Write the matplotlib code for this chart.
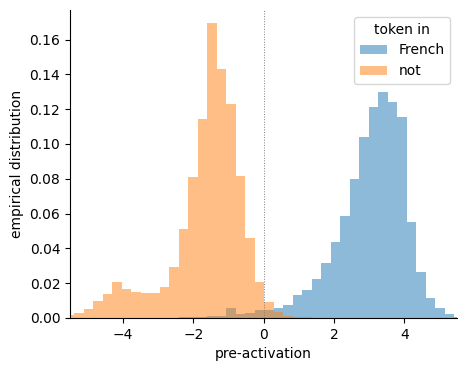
import numpy as np
import matplotlib
matplotlib.use("Agg")
import matplotlib.pyplot as plt

# bin edges (shared) 
bin_start = -5.65
bin_width = 0.27
n_bins = 42
edges = bin_start + bin_width * np.arange(n_bins + 1)

# probability per bin for each hue level
french = [0, 0, 0, 0, 0, 0, 0, 0, 0, 0, 0, 0,
          0.0008, 0.0008, 0.0008, 0.0013, 0.0013, 0.0060, 0.0025, 0.0030,
          0.0044, 0.0046, 0.0055, 0.0077, 0.0134, 0.0163, 0.0226, 0.0318,
          0.0434, 0.0585, 0.0798, 0.1038, 0.1211, 0.1297, 0.1239, 0.1153,
          0.0549, 0.0263, 0.0117, 0.0059, 0.0025, 0.0006]
not_ = [0.0019, 0.0031, 0.0054, 0.0100, 0.0140, 0.0204, 0.0169, 0.0152,
        0.0146, 0.0146, 0.0180, 0.0290, 0.0509, 0.0809, 0.1145, 0.1696,
        0.1431, 0.1229, 0.0814, 0.0457, 0.0209, 0.0094, 0.0036, 0.0013,
        0.0005, 0.0003, 0.0002, 0, 0, 0, 0, 0, 0, 0, 0, 0, 0, 0, 0, 0, 0, 0]

labels = ["French", "not"]

centers = (edges[:-1] + edges[1:]) / 2

fig = plt.figure(figsize=(4.67, 3.71), dpi=100)
ax = fig.add_axes([0.150, 0.143, 0.829, 0.830])

ax.hist(centers, bins=edges, weights=french, color="tab:blue", alpha=0.5,
        label=labels[0], linewidth=0)
ax.hist(centers, bins=edges, weights=not_, color="tab:orange", alpha=0.5,
        label=labels[1], linewidth=0)

ax.axvline(0, color="gray", linestyle=":", linewidth=0.7)

ax.set_xlim(-5.5, 5.5)
ax.set_ylim(0, 0.177)
ax.set_xticks([-4, -2, 0, 2, 4])
ax.set_yticks(np.arange(0, 0.17, 0.02))
ax.set_yticklabels([f"{v:.2f}" for v in np.arange(0, 0.17, 0.02)])
ax.set_xlabel("pre-activation")
ax.set_ylabel("empirical distribution")
ax.spines["top"].set_visible(False)
ax.spines["right"].set_visible(False)
ax.legend(title="token in", loc="upper right")

fig.savefig("out.png", dpi=100)
